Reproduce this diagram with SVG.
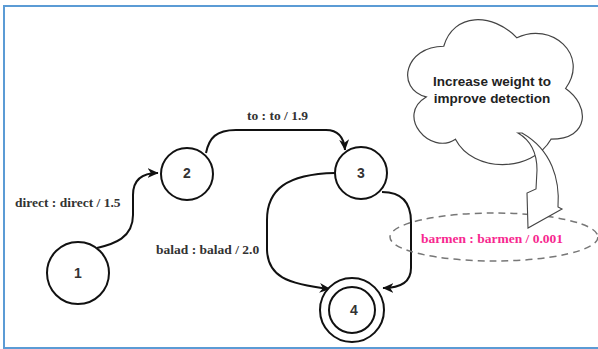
<svg xmlns="http://www.w3.org/2000/svg" width="598" height="349" viewBox="0 0 598 349">
<style>
.st{fill:#fff;stroke:#111;stroke-width:2}
.num{font-family:"Liberation Sans",Arial,sans-serif;font-weight:bold;font-size:14px;fill:#333;text-anchor:middle}
.lbl{font-family:"Liberation Serif","Times New Roman",serif;font-weight:bold;font-size:13.5px;fill:#333}
.edge{fill:none;stroke:#111;stroke-width:2}
</style>
<defs>
<marker id="ah" viewBox="0 0 10 10" refX="9.5" refY="5" markerWidth="11" markerHeight="11" markerUnits="userSpaceOnUse" orient="auto">
<path d="M0,0.5 L10,5 L0,9.5 L3,5 Z" fill="#111"/>
</marker>
</defs>
<rect x="4" y="6" width="598" height="342" fill="#fff" stroke="#5b9bd5" stroke-width="2"/>
<g id="connectors">
<path class="edge" d="M97,248 C114,244 133,238 133,215 L133,195 C133,180 142,173 158,173" marker-end="url(#ah)"/>
<path class="edge" d="M206,153 C209,138 216,130 236,130 L326,130 C339,130 344,138 345,150" marker-end="url(#ah)"/>
<path class="edge" d="M335,173 C286,174 267,190 267,220 L267,250 C268,276 286,284 330,289" marker-end="url(#ah)"/>
<path class="edge" d="M382,192 C402,192 411,202 411,222 L411,268 C411,283 400,288 383,288" marker-end="url(#ah)"/>
</g>
<g id="node1"><circle class="st" cx="78" cy="273" r="31"/><text class="num" x="78" y="278">1</text></g>
<g id="node2"><circle class="st" cx="187" cy="174" r="26"/><text class="num" x="187" y="178">2</text></g>
<g id="node3"><circle class="st" cx="361" cy="173" r="26"/><text class="num" x="361" y="178">3</text></g>
<g id="node4"><circle class="st" cx="352" cy="310" r="32"/><circle class="st" cx="352" cy="310" r="23"/><text class="num" x="354" y="315">4</text></g>
<g id="labels">
<text class="lbl" x="15" y="207">direct : direct / 1.5</text>
<text class="lbl" x="247" y="120">to : to / 1.9</text>
<text class="lbl" x="156" y="254">balad : balad / 2.0</text>
</g>
<g id="barmen">
<ellipse cx="494" cy="237" rx="104" ry="24" fill="none" stroke="#777" stroke-width="1.5" stroke-dasharray="7 5"/>
<text x="421" y="243" font-family="'Liberation Serif','Times New Roman',serif" font-weight="bold" font-size="13.5" fill="#f7288f">barmen : barmen / 0.001</text>
</g>
<g id="cloud">
<path d="M443.75,46.25 C404.75,46.25 395,88.5 426.2,96.95 C395,115.5 430.1,156.1 455.45,139.2 C473,173 531.5,173 551,139.2 C590,139.2 590,105.4 565.6,88.5 C590,54.7 551,20.9 516.9,37.8 C492.5,12.45 453.5,12.45 443.75,46.25 Z" fill="#fff" stroke="#444" stroke-width="1.2"/>
<text x="492" y="86" font-family="'Liberation Sans',Arial,sans-serif" font-weight="bold" font-size="13.5" fill="#222" text-anchor="middle">Increase weight to</text>
<text x="492" y="103" font-family="'Liberation Sans',Arial,sans-serif" font-weight="bold" font-size="13.5" fill="#222" text-anchor="middle">improve detection</text>
</g>
<g id="callout-arrow">
<path d="M518,133 C530,140 537,152 537,170 L536,189 L527,193 L528,228 L562,209 L558,207 C560,180 552,150 522,133 Z" fill="#fff" stroke="#444" stroke-width="1.1" stroke-linejoin="miter"/>
</g>
</svg>
